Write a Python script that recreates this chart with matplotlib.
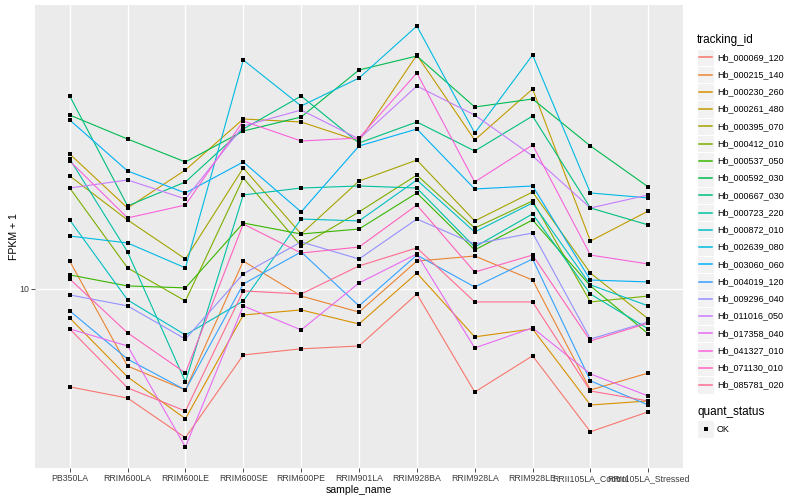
import matplotlib
matplotlib.use('Agg')
import matplotlib.pyplot as plt
from matplotlib.patches import Rectangle
from matplotlib.ticker import NullLocator
import numpy as np

plt.rcParams['font.family'] = ['Liberation Sans', 'DejaVu Sans']

samples = ['PB350LA', 'RRIM600LA', 'RRIM600LE', 'RRIM600SE', 'RRIM600PE', 'RRIM901LA',
           'RRIM928BA', 'RRIM928LA', 'RRIM928LE', 'RRII105LA_Control', 'RRII105LA_Stressed']

tracking_ids = ['Hb_000069_120', 'Hb_000215_140', 'Hb_000230_260', 'Hb_000261_480',
                'Hb_000395_070', 'Hb_000412_010', 'Hb_000537_050', 'Hb_000592_030',
                'Hb_000667_030', 'Hb_000723_220', 'Hb_000872_010', 'Hb_002639_080',
                'Hb_003060_060', 'Hb_004019_120', 'Hb_009296_040', 'Hb_011016_050',
                'Hb_017358_040', 'Hb_041327_010', 'Hb_071130_010', 'Hb_085781_020']

# FPKM + 1 per sample
hb_000069_120 = [6.37, 6.05, 5.04, 7.38, 7.59, 7.69, 9.77, 6.22, 7.35, 5.18, 5.68]
hb_000215_140 = [11.37, 7.01, 6.28, 11.37, 9.68, 8.99, 11.37, 11.64, 10.42, 6.28, 6.79]
hb_000230_260 = [8.75, 6.67, 5.50, 8.87, 9.08, 8.51, 10.76, 8.02, 8.32, 5.86, 5.97]
hb_000261_480 = [18.62, 14.52, 17.30, 21.88, 21.58, 19.77, 29.38, 19.86, 25.12, 12.47, 14.32]
hb_000395_070 = [16.83, 13.74, 11.48, 17.46, 12.88, 16.44, 18.11, 13.68, 15.63, 10.76, 8.71]
hb_000412_010 = [15.92, 11.02, 9.46, 16.67, 12.19, 14.26, 16.90, 13.24, 15.00, 9.42, 9.68]
hb_000537_050 = [10.67, 10.14, 10.05, 13.55, 12.88, 13.18, 15.56, 11.97, 13.74, 10.14, 8.13]
hb_000592_030 = [22.28, 19.95, 17.95, 20.70, 22.08, 27.42, 29.24, 23.12, 23.99, 19.32, 16.00]
hb_000667_030 = [24.32, 14.66, 16.37, 20.89, 24.32, 19.59, 21.58, 18.88, 22.18, 14.52, 13.43]
hb_000723_220 = [18.20, 11.86, 6.52, 15.42, 15.92, 16.07, 15.92, 12.13, 14.13, 9.77, 8.32]
hb_000872_010 = [13.74, 9.51, 8.09, 9.46, 13.80, 13.68, 16.52, 13.00, 14.86, 10.19, 9.25]
hb_002639_080 = [12.76, 12.36, 11.02, 28.71, 23.23, 26.42, 33.57, 20.51, 29.38, 15.56, 15.21]
hb_003060_060 = [21.78, 17.22, 15.56, 17.95, 14.26, 19.32, 20.89, 15.85, 16.07, 10.42, 10.33]
hb_004019_120 = [9.04, 7.24, 6.28, 10.23, 11.86, 9.25, 11.69, 10.09, 11.48, 6.55, 5.86]
hb_009296_040 = [9.73, 9.25, 7.94, 10.72, 12.42, 11.48, 13.80, 12.30, 12.94, 7.94, 8.59]
hb_011016_050 = [15.92, 16.52, 15.14, 21.18, 22.80, 19.95, 25.47, 22.28, 18.45, 14.52, 15.42]
hb_017358_040 = [8.32, 7.69, 4.83, 9.25, 8.28, 10.28, 11.75, 7.62, 8.36, 6.76, 6.11]
hb_041327_010 = [18.03, 13.87, 14.72, 21.68, 19.77, 20.04, 27.04, 16.37, 19.41, 11.69, 11.22]
hb_071130_010 = [10.47, 8.17, 6.79, 13.49, 11.80, 12.13, 14.72, 10.81, 11.69, 7.87, 8.55]
hb_085781_020 = [8.32, 6.34, 5.70, 9.91, 9.77, 11.12, 12.08, 9.42, 9.42, 6.25, 5.97]

fpkm = [hb_000069_120, hb_000215_140, hb_000230_260, hb_000261_480, hb_000395_070,
        hb_000412_010, hb_000537_050, hb_000592_030, hb_000667_030, hb_000723_220,
        hb_000872_010, hb_002639_080, hb_003060_060, hb_004019_120, hb_009296_040,
        hb_011016_050, hb_017358_040, hb_041327_010, hb_071130_010, hb_085781_020]

# default ggplot hue palette for 20 groups
colours = ['#F8766D', '#EA8331', '#D89000', '#C09B00', '#A3A500', '#7CAE00', '#39B600',
           '#00BB4E', '#00BF7D', '#00C1A3', '#00BFC4', '#00BAE0', '#00B0F6', '#35A2FF',
           '#9590FF', '#C77CFF', '#E76BF3', '#FA62DB', '#FF62BC', '#FF6C91']

W, H = 800, 500
fig = plt.figure(figsize=(8, 5), dpi=100)
ax = fig.add_axes([35 / W, 32 / H, 648 / W, 463 / H])
ax.set_facecolor('#EBEBEB')

x = np.arange(1, len(samples) + 1)
for vals, col in zip(fpkm, colours):
    ax.plot(x, vals, color=col, lw=0.8, zorder=2)
for vals in fpkm:
    ax.scatter(x, vals, marker='s', s=7, color='black', linewidths=0, zorder=3)

ax.set_yscale('log')
all_vals = np.log10(np.concatenate([np.array(v) for v in fpkm]))
lo, hi = all_vals.min(), all_vals.max()
pad = 0.05 * (hi - lo)
ax.set_ylim(10 ** (lo - pad), 10 ** (hi + pad))
ax.set_xlim(0.4, len(samples) + 0.6)

ax.set_xticks(x)
ax.set_xticklabels(samples)
ax.set_yticks([10])
ax.set_yticklabels(['10'])
ax.yaxis.set_minor_locator(NullLocator())
ax.grid(True, color='white', lw=1.0)
ax.set_axisbelow(True)
for s in ax.spines.values():
    s.set_visible(False)
ax.tick_params(length=3, color='#333333', width=0.6, labelsize=6.3,
               labelcolor='#3C3C3C', pad=1.5)
ax.set_xlabel('sample_name', fontsize=7.6, labelpad=1)
ax.set_ylabel('FPKM + 1', fontsize=7.6, labelpad=0)

# legends, drawn in pixel coordinates
lax = fig.add_axes([0, 0, 1, 1], facecolor='none')
lax.set_xlim(0, W)
lax.set_ylim(H, 0)
lax.axis('off')

step = 17.25
y0 = 57.3
lax.text(697, 40, 'tracking_id', fontsize=8.5, va='center', ha='left')
for i, (name, col) in enumerate(zip(tracking_ids, colours)):
    yc = y0 + i * step
    lax.add_patch(Rectangle((697, yc - step / 2), 17, step, facecolor='#F2F2F2',
                            edgecolor='white', lw=0.8))
    lax.plot([699, 712], [yc, yc], color=col, lw=1.1)
    lax.text(717, yc, name, fontsize=6.5, va='center', ha='left')

lax.text(697, 412, 'quant_status', fontsize=8.5, va='center', ha='left')
lax.add_patch(Rectangle((697, 429 - step / 2), 17, step, facecolor='#F2F2F2',
                        edgecolor='white', lw=0.8))
lax.scatter([705.5], [429], marker='s', s=7, color='black', linewidths=0)
lax.text(717, 429, 'OK', fontsize=6.5, va='center', ha='left')

fig.savefig('out.png', dpi=100)
